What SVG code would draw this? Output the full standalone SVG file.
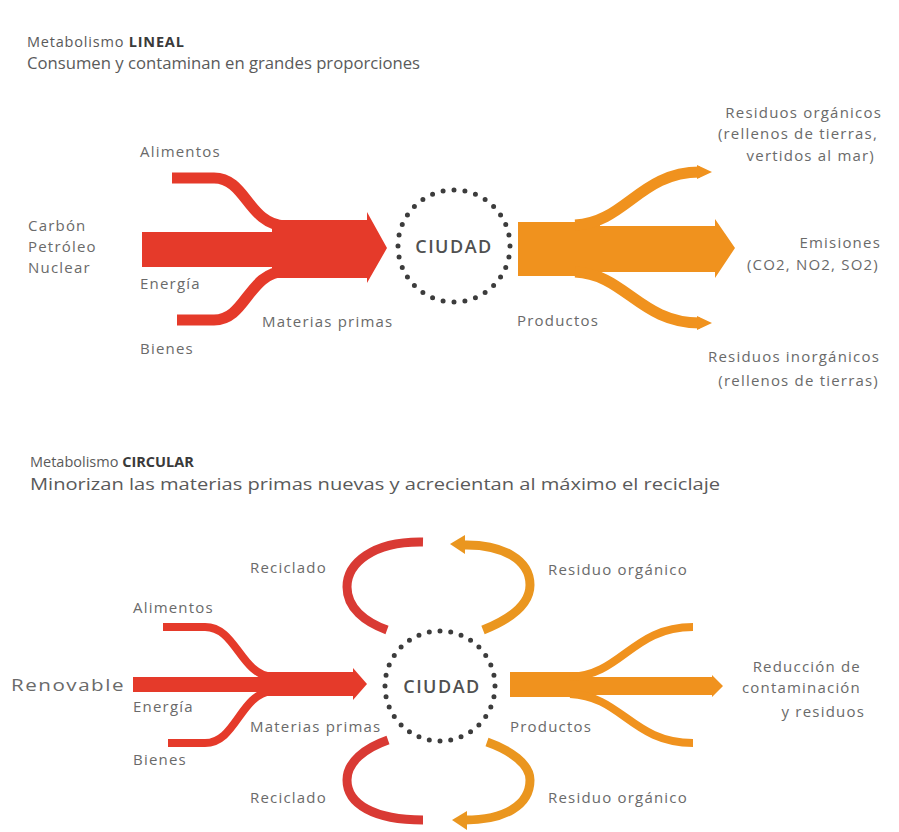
<svg xmlns="http://www.w3.org/2000/svg" width="899" height="832" viewBox="0 0 899 832">
<defs>
<style>
text{font-family:"Open Sans","Liberation Sans",sans-serif;fill:#6a6a6a;font-size:15px;letter-spacing:1.2px}
.title{font-size:14.5px;fill:#5a5a5a;letter-spacing:0.8px}
.sub{font-size:16px;fill:#5a5a5a;letter-spacing:0}
.b{font-weight:bold;fill:#3a3a3a}
.r{text-anchor:end}
.city{font-size:18px;font-weight:600;fill:#505050;text-anchor:middle;letter-spacing:1.5px}
.red{fill:#e53a2a}
.redS{fill:none;stroke:#e53a2a;stroke-linecap:butt}
.orgS{fill:none;stroke:#f0921e;stroke-linecap:butt}
.org{fill:#f0921e}
.arcR{fill:none;stroke:#d93a34;stroke-width:9}
.arcO{fill:none;stroke:#ea961f;stroke-width:9}
.dots{fill:none;stroke:#3c3c3c;stroke-width:5;stroke-linecap:round;stroke-dasharray:0 1}
</style>
</defs>
<rect width="899" height="832" fill="#ffffff"/>

<!-- Titles -->
<g id="title-lineal">
<text class="title" x="27" y="47">Metabolismo <tspan class="b">LINEAL</tspan></text>
<text class="sub" x="27" y="69" textLength="393" lengthAdjust="spacingAndGlyphs">Consumen y contaminan en grandes proporciones</text>
</g>
<g id="title-circular">
<text class="title" x="30" y="467" style="letter-spacing:0">Metabolismo <tspan class="b">CIRCULAR</tspan></text>
<text class="sub" x="30" y="490" textLength="690" lengthAdjust="spacingAndGlyphs">Minorizan las materias primas nuevas y acrecientan al máximo el reciclaje</text>
</g>

<!-- Connectors -->
<g id="connectors">
<!-- top red input -->
<path class="redS" stroke-width="11" d="M172 178 L214 178 C246 178 248 224 285 226"/>
<path class="redS" stroke-width="11" d="M177 320 L214 320 C246 320 248 273 285 271"/>
<polygon class="red" points="142,232 272,232 272,220 367,220 367,212 387,248 367,283 367,278 272,278 272,267 142,267"/>
<!-- top orange output -->
<polygon class="org" points="518,222 600,222 600,226 715,226 715,219 735,248 715,278 715,272 600,272 600,276 518,276"/>
<path class="orgS" stroke-width="11" d="M575 225 C625 223 640 172 700 172"/>
<polygon class="org" points="697,165 712,172 697,179"/>
<path class="orgS" stroke-width="11" d="M575 272 C625 274 640 323 700 323"/>
<polygon class="org" points="697,316 712,323 697,330"/>

<!-- bottom red input -->
<path class="redS" stroke-width="8" d="M163 627 L205 627 C236 627 240 674 272 677"/>
<path class="redS" stroke-width="8" d="M168 743 L205 743 C236 743 240 694 272 691"/>
<polygon class="red" points="133,677 263,677 263,672 353,672 353,668 367,684 353,700 353,696 263,696 263,692 133,692"/>
<!-- bottom orange output -->
<polygon class="org" points="510,672 585,672 585,677 712,677 712,675 723,686 712,697 712,695 585,695 585,697 510,697"/>
<path class="orgS" stroke-width="8" d="M570 677 C622 675 632 627 693 627"/>
<path class="orgS" stroke-width="8" d="M570 694 C622 696 632 743 693 743"/>

<!-- recycling arcs top -->
<path class="arcR" d="M423 542 C372 541 347 564 347 587 C347 608 365 622 387 630"/>
<path class="arcO" d="M483 630 C508 620 530 606 530 585 C530 560 503 544 463 545"/>
<polygon points="450,544 465,535 465,554" fill="#ea961f"/>
<!-- recycling arcs bottom -->
<path class="arcR" d="M388 740 C365 748 347 762 347 780 C347 804 374 820 423 820"/>
<path class="arcO" d="M487 742 C510 750 530 764 530 780 C530 805 505 820 465 820"/>
<polygon points="452,820 467,811 467,830" fill="#ea961f"/>
</g>

<!-- Nodes -->
<g id="city-lineal">
<circle class="dots" cx="454" cy="246" r="56" pathLength="32"/>
<text class="city" x="454" y="253">CIUDAD</text>
</g>
<g id="city-circular">
<circle class="dots" cx="440" cy="686" r="55" pathLength="32"/>
<text class="city" x="442" y="693">CIUDAD</text>
</g>

<g id="labels-lineal">
<text x="140" y="157">Alimentos</text>
<text x="28" y="231">Carbón</text>
<text x="28" y="252">Petróleo</text>
<text x="28" y="273">Nuclear</text>
<text x="140" y="289">Energía</text>
<text x="140" y="354">Bienes</text>
<text x="262" y="327">Materias primas</text>
<text x="517" y="326">Productos</text>
<text class="r" x="882" y="118">Residuos orgánicos</text>
<text class="r" x="878" y="139">(rellenos de tierras,</text>
<text class="r" x="875" y="161">vertidos al mar)</text>
<text class="r" x="881" y="248">Emisiones</text>
<text class="r" x="879" y="270">(CO2, NO2, SO2)</text>
<text class="r" x="880" y="362">Residuos inorgánicos</text>
<text class="r" x="879" y="386">(rellenos de tierras)</text>
</g>

<g id="labels-circular">
<text x="250" y="573">Reciclado</text>
<text x="548" y="575">Residuo orgánico</text>
<text x="133" y="613">Alimentos</text>
<text x="11" y="691" style="font-size:16px" textLength="114" lengthAdjust="spacingAndGlyphs">Renovable</text>
<text x="133" y="712">Energía</text>
<text x="250" y="732">Materias primas</text>
<text x="510" y="732">Productos</text>
<text x="133" y="765">Bienes</text>
<text x="250" y="803">Reciclado</text>
<text x="548" y="803">Residuo orgánico</text>
<text class="r" x="861" y="672">Reducción de</text>
<text class="r" x="861" y="693">contaminación</text>
<text class="r" x="865" y="717">y residuos</text>
</g>
</svg>
